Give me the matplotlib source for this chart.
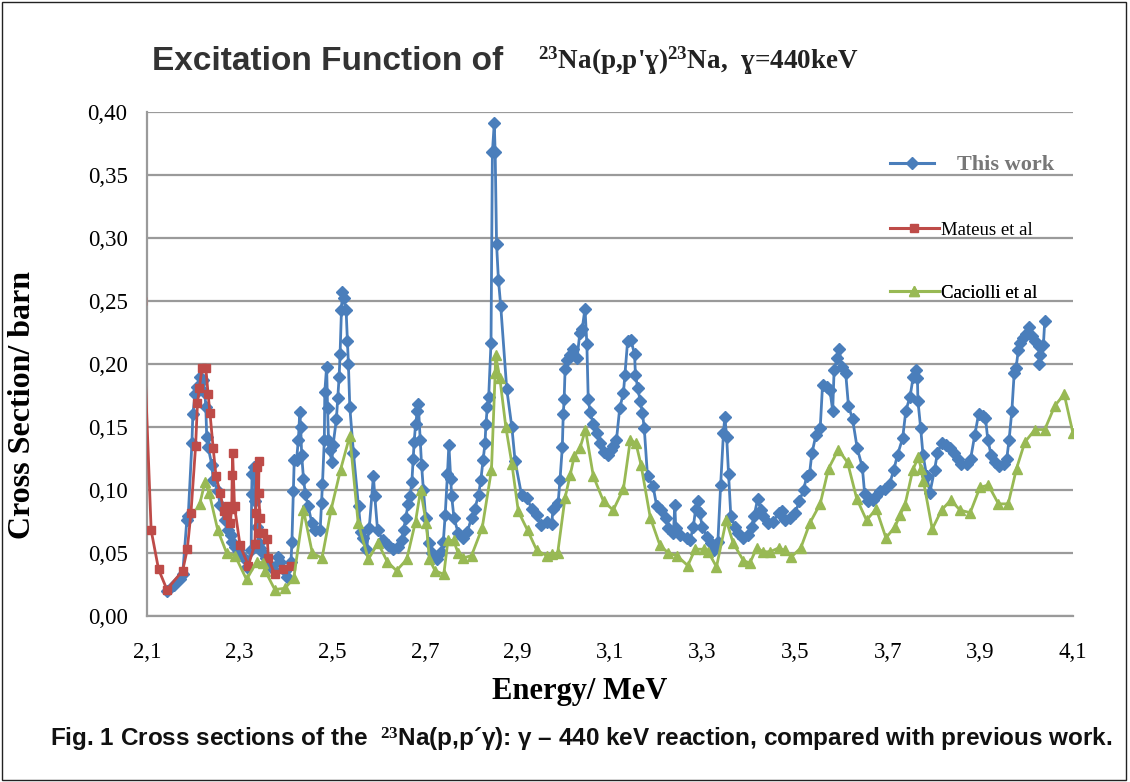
import numpy as np
import matplotlib
matplotlib.use("Agg")
import matplotlib.pyplot as plt
from matplotlib.lines import Line2D
from matplotlib.patches import Rectangle
from matplotlib.ticker import FuncFormatter, MultipleLocator

plt.rcParams.update({
    'mathtext.fontset': 'custom',
    'mathtext.rm': 'Liberation Serif:bold',
    'mathtext.bf': 'Liberation Serif:bold',
    'mathtext.default': 'rm',
})

# ---- data (E in MeV, sigma in barn) ----
this_e = [2.143, 2.159, 2.171, 2.177, 2.186, 2.189, 2.197, 2.199, 2.204, 2.209,
          2.214, 2.222, 2.225, 2.227, 2.229, 2.232, 2.240, 2.243, 2.253, 2.258,
          2.268, 2.276, 2.281, 2.284, 2.291, 2.297, 2.308, 2.315, 2.325, 2.326,
          2.327, 2.332, 2.333, 2.337, 2.341, 2.344, 2.348, 2.358, 2.368, 2.373,
          2.382, 2.387, 2.397, 2.402, 2.411, 2.413, 2.416, 2.418, 2.423, 2.427,
          2.430, 2.432, 2.434, 2.438, 2.442, 2.448, 2.456, 2.463, 2.474, 2.477,
          2.479, 2.483, 2.484, 2.488, 2.490, 2.492, 2.495, 2.499, 2.502, 2.509,
          2.512, 2.515, 2.517, 2.520, 2.522, 2.525, 2.530, 2.533, 2.535, 2.538,
          2.546, 2.557, 2.562, 2.567, 2.574, 2.580, 2.589, 2.592, 2.598, 2.610,
          2.620, 2.632, 2.643, 2.650, 2.654, 2.659, 2.664, 2.668, 2.672, 2.675,
          2.677, 2.680, 2.684, 2.686, 2.690, 2.693, 2.697, 2.702, 2.708, 2.715,
          2.726, 2.736, 2.740, 2.744, 2.749, 2.752, 2.756, 2.758, 2.763, 2.772,
          2.783, 2.792, 2.801, 2.808, 2.816, 2.821, 2.826, 2.830, 2.832, 2.835,
          2.838, 2.843, 2.846, 2.850, 2.852, 2.855, 2.859, 2.864, 2.877, 2.888,
          2.895, 2.909, 2.920, 2.931, 2.942, 2.952, 2.963, 2.974, 2.977, 2.988,
          2.992, 2.997, 2.999, 3.001, 3.003, 3.007, 3.014, 3.021, 3.029, 3.035,
          3.040, 3.046, 3.050, 3.053, 3.057, 3.064, 3.071, 3.078, 3.087, 3.096,
          3.103, 3.107, 3.114, 3.121, 3.129, 3.132, 3.138, 3.145, 3.153, 3.155,
          3.160, 3.165, 3.170, 3.174, 3.181, 3.193, 3.201, 3.211, 3.220, 3.226,
          3.237, 3.240, 3.242, 3.251, 3.266, 3.273, 3.280, 3.285, 3.289, 3.294,
          3.299, 3.309, 3.318, 3.325, 3.333, 3.339, 3.345, 3.348, 3.352, 3.356,
          3.361, 3.370, 3.377, 3.388, 3.398, 3.406, 3.411, 3.419, 3.426, 3.431,
          3.442, 3.453, 3.464, 3.471, 3.478, 3.489, 3.500, 3.509, 3.518, 3.525,
          3.531, 3.536, 3.545, 3.554, 3.559, 3.568, 3.575, 3.581, 3.584, 3.591,
          3.595, 3.600, 3.609, 3.615, 3.624, 3.634, 3.645, 3.650, 3.657, 3.667,
          3.674, 3.683, 3.693, 3.704, 3.713, 3.721, 3.732, 3.739, 3.748, 3.755,
          3.760, 3.764, 3.765, 3.771, 3.776, 3.784, 3.791, 3.801, 3.807, 3.816,
          3.825, 3.834, 3.844, 3.851, 3.859, 3.870, 3.879, 3.888, 3.896, 3.906,
          3.911, 3.916, 3.923, 3.932, 3.940, 3.950, 3.957, 3.962, 3.968, 3.973,
          3.977, 3.982, 3.986, 3.991, 3.998, 4.005, 4.012, 4.019, 4.027, 4.027,
          4.029, 4.036, 4.039]
this_s = [0.020, 0.025, 0.029, 0.033, 0.076, 0.079, 0.137, 0.160, 0.176, 0.182,
          0.190, 0.187, 0.177, 0.166, 0.142, 0.134, 0.120, 0.108, 0.099, 0.088,
          0.076, 0.068, 0.064, 0.059, 0.055, 0.052, 0.047, 0.039, 0.052, 0.097,
          0.113, 0.118, 0.091, 0.071, 0.058, 0.054, 0.051, 0.046, 0.040, 0.037,
          0.047, 0.043, 0.036, 0.031, 0.043, 0.059, 0.099, 0.124, 0.124, 0.140,
          0.162, 0.150, 0.128, 0.109, 0.097, 0.087, 0.074, 0.068, 0.068, 0.090,
          0.105, 0.140, 0.178, 0.198, 0.165, 0.140, 0.132, 0.122, 0.136, 0.156,
          0.173, 0.190, 0.208, 0.243, 0.257, 0.252, 0.243, 0.218, 0.200, 0.166,
          0.129, 0.087, 0.067, 0.062, 0.053, 0.070, 0.111, 0.095, 0.068, 0.060,
          0.056, 0.053, 0.055, 0.060, 0.068, 0.078, 0.089, 0.095, 0.106, 0.125,
          0.138, 0.152, 0.163, 0.168, 0.140, 0.120, 0.100, 0.078, 0.058, 0.050,
          0.045, 0.051, 0.059, 0.080, 0.113, 0.136, 0.109, 0.095, 0.078, 0.066,
          0.062, 0.067, 0.078, 0.085, 0.096, 0.108, 0.124, 0.137, 0.152, 0.166,
          0.174, 0.217, 0.368, 0.391, 0.368, 0.295, 0.267, 0.246, 0.180, 0.150,
          0.123, 0.096, 0.094, 0.085, 0.080, 0.072, 0.075, 0.073, 0.085, 0.090,
          0.108, 0.134, 0.160, 0.172, 0.196, 0.203, 0.207, 0.212, 0.205, 0.225,
          0.228, 0.244, 0.216, 0.172, 0.162, 0.152, 0.145, 0.137, 0.130, 0.128,
          0.132, 0.135, 0.140, 0.165, 0.177, 0.191, 0.218, 0.219, 0.208, 0.191,
          0.181, 0.171, 0.161, 0.149, 0.111, 0.103, 0.087, 0.084, 0.078, 0.070,
          0.066, 0.088, 0.070, 0.064, 0.062, 0.060, 0.071, 0.085, 0.091, 0.082,
          0.071, 0.063, 0.058, 0.052, 0.059, 0.104, 0.145, 0.158, 0.142, 0.113,
          0.079, 0.071, 0.066, 0.062, 0.064, 0.071, 0.079, 0.093, 0.084, 0.079,
          0.074, 0.075, 0.082, 0.083, 0.076, 0.078, 0.082, 0.091, 0.100, 0.111,
          0.113, 0.129, 0.144, 0.149, 0.183, 0.182, 0.179, 0.163, 0.195, 0.205,
          0.212, 0.198, 0.193, 0.167, 0.156, 0.133, 0.118, 0.097, 0.091, 0.092,
          0.095, 0.099, 0.101, 0.105, 0.116, 0.128, 0.141, 0.163, 0.174, 0.190,
          0.195, 0.189, 0.171, 0.149, 0.128, 0.111, 0.098, 0.116, 0.129, 0.137,
          0.136, 0.133, 0.129, 0.125, 0.121, 0.121, 0.125, 0.144, 0.160, 0.159,
          0.157, 0.140, 0.128, 0.122, 0.119, 0.121, 0.125, 0.140, 0.163, 0.193,
          0.197, 0.211, 0.217, 0.221, 0.224, 0.229, 0.222, 0.218, 0.214, 0.200,
          0.207, 0.215, 0.234]

mateus_e = [2.090, 2.109, 2.125, 2.143, 2.177, 2.187, 2.195, 2.205, 2.209, 2.213,
            2.219, 2.227, 2.232, 2.236, 2.243, 2.249, 2.258, 2.266, 2.272, 2.276,
            2.279, 2.283, 2.284, 2.285, 2.289, 2.301, 2.319, 2.333, 2.335, 2.337,
            2.342, 2.341, 2.344, 2.343, 2.351, 2.360, 2.362, 2.376, 2.394, 2.410]
mateus_s = [0.250, 0.068, 0.037, 0.021, 0.036, 0.053, 0.082, 0.135, 0.169, 0.181,
            0.197, 0.197, 0.176, 0.161, 0.133, 0.111, 0.098, 0.083, 0.080, 0.087,
            0.074, 0.085, 0.112, 0.129, 0.087, 0.056, 0.040, 0.057, 0.082, 0.118,
            0.123, 0.098, 0.078, 0.066, 0.066, 0.061, 0.046, 0.033, 0.037, 0.040]

caciolli_e = [2.214, 2.225, 2.234, 2.253, 2.272, 2.290, 2.315, 2.337, 2.351, 2.355,
              2.376, 2.398, 2.417, 2.438, 2.457, 2.478, 2.498, 2.518, 2.538, 2.556,
              2.578, 2.599, 2.619, 2.639, 2.661, 2.680, 2.691, 2.703, 2.710, 2.722,
              2.741, 2.750, 2.762, 2.772, 2.783, 2.801, 2.824, 2.844, 2.852, 2.853,
              2.862, 2.875, 2.888, 2.902, 2.922, 2.942, 2.963, 2.974, 2.987, 3.003,
              3.014, 3.023, 3.035, 3.047, 3.064, 3.086, 3.107, 3.129, 3.144, 3.156,
              3.167, 3.187, 3.208, 3.226, 3.244, 3.268, 3.284, 3.302, 3.312, 3.330,
              3.351, 3.366, 3.388, 3.402, 3.417, 3.431, 3.446, 3.464, 3.478, 3.492,
              3.512, 3.532, 3.554, 3.572, 3.593, 3.613, 3.633, 3.654, 3.675, 3.696,
              3.716, 3.726, 3.737, 3.754, 3.766, 3.772, 3.777, 3.796, 3.816, 3.836,
              3.856, 3.878, 3.899, 3.917, 3.939, 3.960, 3.978, 3.996, 4.018, 4.039,
              4.061, 4.081, 4.100]
caciolli_s = [0.089, 0.106, 0.098, 0.068, 0.050, 0.048, 0.029, 0.043, 0.042, 0.036,
              0.021, 0.022, 0.030, 0.084, 0.050, 0.046, 0.085, 0.116, 0.143, 0.074,
              0.045, 0.058, 0.043, 0.036, 0.045, 0.075, 0.100, 0.074, 0.045, 0.036,
              0.033, 0.060, 0.060, 0.050, 0.046, 0.048, 0.070, 0.116, 0.193, 0.207,
              0.189, 0.150, 0.121, 0.083, 0.068, 0.052, 0.048, 0.049, 0.050, 0.094,
              0.112, 0.127, 0.133, 0.148, 0.111, 0.091, 0.084, 0.101, 0.140, 0.137,
              0.120, 0.078, 0.056, 0.050, 0.048, 0.040, 0.053, 0.053, 0.051, 0.039,
              0.076, 0.058, 0.044, 0.042, 0.054, 0.051, 0.051, 0.054, 0.052, 0.047,
              0.054, 0.074, 0.089, 0.117, 0.132, 0.122, 0.093, 0.076, 0.085, 0.062,
              0.071, 0.080, 0.088, 0.116, 0.126, 0.117, 0.107, 0.069, 0.084, 0.092,
              0.084, 0.082, 0.102, 0.104, 0.089, 0.089, 0.117, 0.138, 0.148, 0.148,
              0.167, 0.176, 0.145]

x_ticks = [2.1, 2.3, 2.5, 2.7, 2.9, 3.1, 3.3, 3.5, 3.7, 3.9, 4.1]

BLUE = '#4a7ebb'
RED = '#be4b48'
GREEN = '#98b954'
GRID = '#9a9a9a'

fig = plt.figure(figsize=(11.3, 7.82), dpi=100)
fig.patch.set_facecolor('white')
ax = fig.add_axes([147/1130, 1 - 616/782, (1073 - 147)/1130, (616 - 112)/782])

ax.plot(this_e, this_s, color=BLUE, lw=2, marker='D', ms=5.8,
        mec=BLUE, mfc=BLUE, zorder=3)
ax.plot(mateus_e, mateus_s, color=RED, lw=2, marker='s', ms=6,
        mec=RED, mfc=RED, zorder=4)
ax.plot(caciolli_e, caciolli_s, color=GREEN, lw=2, marker='^', ms=7,
        mec=GREEN, mfc=GREEN, zorder=5)

ax.set_xlim(2.1, 4.1)
ax.set_ylim(0, 0.40)
ax.set_xticks(x_ticks)
ax.yaxis.set_major_locator(MultipleLocator(0.05))
ax.xaxis.set_major_formatter(FuncFormatter(lambda v, p: f'{v:.1f}'.replace('.', ',')))
ax.yaxis.set_major_formatter(FuncFormatter(lambda v, p: f'{v:.2f}'.replace('.', ',')))
ax.tick_params(length=0, labelsize=16.5)
ax.tick_params(axis='y', pad=14)
ax.tick_params(axis='x', pad=19)
for lab in ax.get_xticklabels() + ax.get_yticklabels():
    lab.set_fontfamily('Liberation Serif')
ax.grid(axis='y', color=GRID, lw=1.6)
ax.set_axisbelow(True)
for side in ['top', 'right']:
    ax.spines[side].set_visible(False)
ax.spines['left'].set_color(GRID)
ax.spines['left'].set_linewidth(1.6)
ax.spines['bottom'].set_color(GRID)
ax.spines['bottom'].set_linewidth(1.6)

ax.set_ylabel('Cross Section/ barn', fontfamily='Liberation Serif',
              fontweight='bold', fontsize=23)
ax.yaxis.set_label_coords((22 - 147) / 926, (616 - 405) / 504)
ax.yaxis.label.set_va('center')
ax.set_xlabel('Energy/ MeV', fontfamily='Liberation Serif',
              fontweight='bold', fontsize=22)
ax.xaxis.set_label_coords((580 - 147) / 926, (616 - 691) / 504)
ax.xaxis.label.set_va('center')

# legend entries, one per series, placed like the original
def entry(handle, label, y, **kw):
    leg = ax.legend([handle], [label], loc='center left',
                    bbox_to_anchor=((890 - 147) / 926, y), frameon=False,
                    borderaxespad=0, borderpad=0, **kw)
    ax.add_artist(leg)
    return leg

entry(Line2D([], [], color=BLUE, lw=2.2, marker='D', ms=6),
      'This work', (616 - 165) / 504,
      prop={'family': 'Liberation Serif', 'weight': 'bold', 'size': 16},
      labelcolor='#777777', handlelength=2.0, handletextpad=1.0)
entry(Line2D([], [], color=RED, lw=2.2, marker='s', ms=6),
      'Mateus et al', (616 - 230) / 504,
      prop={'family': 'Liberation Serif', 'size': 13.5},
      handlelength=2.6, handletextpad=0.1)
entry(Line2D([], [], color=GREEN, lw=2.2, marker='^', ms=7),
      'Caciolli et al', (616 - 293) / 504,
      prop={'family': 'Liberation Serif', 'size': 13.5},
      handlelength=2.6, handletextpad=0.1)

fig.text(152/1130, 1 - 62/782, 'Excitation Function of', fontfamily='Liberation Sans',
         fontweight='bold', fontsize=24, color='#333333', va='center', ha='left')
fig.text(538/1130, 1 - 61/782, "$^{23}$Na(p,p'ɣ)$^{23}$Na,  ɣ=440keV",
         fontfamily=['Liberation Serif', 'DejaVu Serif'], fontweight='bold',
         fontsize=19.5, color='#222222', va='center', ha='left')

fig.text(50/1130, 1 - 740/782,
         'Fig. 1 Cross sections of the  $^{23}$Na(p,p\u00b4\u03b3): \u03b3 \u2013 440 keV reaction, compared with previous work.',
         fontfamily=['Liberation Sans', 'DejaVu Sans'], fontweight='bold',
         fontsize=17.5, color='#111111', va='center', ha='left')

fig.add_artist(Rectangle((2/1130, 2/782), 1124/1130, 778/782, transform=fig.transFigure,
                         fill=False, edgecolor='#222222', lw=1))

fig.savefig('out.png', dpi=100)
